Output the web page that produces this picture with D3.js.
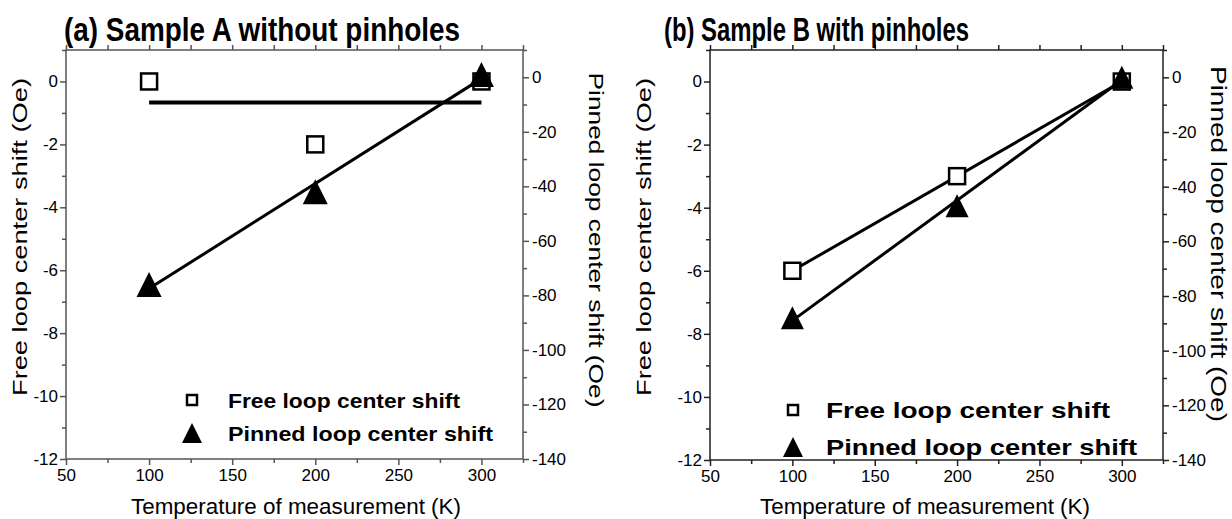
<!DOCTYPE html>
<html>
<head>
<meta charset="utf-8">
<script src="https://cdn.jsdelivr.net/npm/d3@7"></script>
<style>
  body { margin: 0; background: #fff; }
  svg text { font-family: 'Liberation Sans', Arial, sans-serif; fill: #000; }
</style>
</head>
<body>
<svg id="chart" width="1232" height="519"></svg>
<script>
// data
let temps = [100, 200, 300]
let freeA = [0, -2, 0]
let pinnedA = [-76, -42, 1]
let freeB = [-6, -3, 0]
let pinnedB = [-88, -47, 0]

let xTicks = [50, 100, 150, 200, 250, 300]
let xMinor = [75, 125, 175, 225, 275, 325]
let leftTicks = [0, -2, -4, -6, -8, -10, -12]
let leftMinor = [1, -1, -3, -5, -7, -9, -11]
let rightTicks = [0, -20, -40, -60, -80, -100, -120, -140]
let rightMinor = [10, -10, -30, -50, -70, -90, -110, -130]

let legendLabels = ['Free loop center shift', 'Pinned loop center shift']

function main() {
    let svg = d3.select('#chart')

    drawPanel(svg, {
        title: '(a) Sample A without pinholes', titleX: 64, titleW: 396,
        x0: 66, x1: 523, y0: 459, y1: 50,
        free: freeA, pinned: pinnedA,
        axisColor: '#555', freeLineW: 4,
        legX: 192, legY: 400, legTextX: 228, legGap: 33, legFont: 21, legW: [232, 265],
        xLabelX: 296, leftLabelX: 27, rightLabelX: 589, rightW: 335, rightMid: 240, rightFont: 20,
        triSize: 25
    })
    drawPanel(svg, {
        title: '(b) Sample B with pinholes', titleX: 664, titleW: 305,
        x0: 710, x1: 1163, y0: 460, y1: 50,
        free: freeB, pinned: pinnedB,
        axisColor: '#222', freeLineW: 3,
        legX: 793, legY: 410, legTextX: 826, legGap: 37, legFont: 22, legW: [284, 311],
        xLabelX: 925, leftLabelX: 651, rightLabelX: 1211, rightW: 356, rightMid: 244, rightFont: 22,
        triSize: 23
    })
}

function fit(xs, ys) {
    let mx = d3.mean(xs), my = d3.mean(ys)
    let num = d3.sum(xs, (x, i) => (x - mx) * (ys[i] - my))
    let den = d3.sum(xs, x => (x - mx) * (x - mx))
    let b = num / den
    return x => my + b * (x - mx)
}

function triangle(s) {
    let h = s / 2
    return 'M0,' + (-h) + 'L' + h + ',' + h + 'L' + (-h) + ',' + h + 'Z'
}

function drawPanel(svg, c) {
    let g = svg.append('g')
    let xScale = d3.scaleLinear().domain([50, 325]).range([c.x0, c.x1])
    let yLeft = d3.scaleLinear().domain([-12, 1]).range([c.y0, c.y1])
    let yRight = d3.scaleLinear().domain([-140, 10]).range([c.y0, c.y1])
    let plain = d => String(d)

    // frame
    g.append('rect')
        .attr('x', c.x0).attr('y', c.y1)
        .attr('width', c.x1 - c.x0).attr('height', c.y0 - c.y1)
        .attr('fill', 'none').attr('stroke', c.axisColor).attr('stroke-width', 1.5)

    let styleAxis = sel => {
        sel.select('.domain').remove()
        sel.selectAll('line').attr('stroke', c.axisColor).attr('stroke-width', 1.5)
        sel.selectAll('text').attr('font-size', 17).attr('fill', '#000')
            .attr('font-family', "'Liberation Sans', Arial, sans-serif")
    }

    // bottom axis
    g.append('g').attr('transform', 'translate(0,' + c.y0 + ')')
        .call(d3.axisBottom(xScale).tickValues(xTicks).tickSize(6).tickPadding(4).tickFormat(plain))
        .call(styleAxis)
    g.append('g').attr('transform', 'translate(0,' + c.y0 + ')')
        .call(d3.axisBottom(xScale).tickValues(xMinor).tickSize(4).tickFormat(''))
        .call(styleAxis)
    // top ticks
    g.append('g').attr('transform', 'translate(0,' + c.y1 + ')')
        .call(d3.axisTop(xScale).tickValues(xTicks.concat(xMinor)).tickSize(5).tickFormat(''))
        .call(styleAxis)

    // left axis
    g.append('g').attr('transform', 'translate(' + c.x0 + ',0)')
        .call(d3.axisLeft(yLeft).tickValues(leftTicks).tickSize(6).tickPadding(2).tickFormat(plain))
        .call(styleAxis)
    g.append('g').attr('transform', 'translate(' + c.x0 + ',0)')
        .call(d3.axisLeft(yLeft).tickValues(leftMinor).tickSize(4).tickFormat(''))
        .call(styleAxis)

    // right axis
    g.append('g').attr('transform', 'translate(' + c.x1 + ',0)')
        .call(d3.axisRight(yRight).tickValues(rightTicks).tickSize(6).tickPadding(3).tickFormat(plain))
        .call(styleAxis)
    g.append('g').attr('transform', 'translate(' + c.x1 + ',0)')
        .call(d3.axisRight(yRight).tickValues(rightMinor).tickSize(4).tickFormat(''))
        .call(styleAxis)

    // fit lines
    let freeFit = fit(temps, c.free)
    let pinFit = fit(temps, c.pinned)
    let xEnds = [d3.min(temps), d3.max(temps)]
    g.append('path')
        .attr('d', d3.line()(xEnds.map(t => [xScale(t), yLeft(freeFit(t))])))
        .attr('stroke', '#000').attr('stroke-width', c.freeLineW).attr('fill', 'none')
    g.append('path')
        .attr('d', d3.line()(xEnds.map(t => [xScale(t), yRight(pinFit(t))])))
        .attr('stroke', '#000').attr('stroke-width', 3).attr('fill', 'none')

    // free markers
    g.selectAll('rect.free')
        .data(temps.map((t, i) => [t, c.free[i]]))
        .enter()
        .append('rect')
        .attr('class', 'free')
        .attr('x', d => xScale(d[0]) - 8)
        .attr('y', d => yLeft(d[1]) - 8)
        .attr('width', 16).attr('height', 16)
        .attr('fill', '#fff').attr('stroke', '#000').attr('stroke-width', 2.5)

    // pinned markers
    g.selectAll('path.pin')
        .data(temps.map((t, i) => [t, c.pinned[i]]))
        .enter()
        .append('path')
        .attr('class', 'pin')
        .attr('d', triangle(c.triSize))
        .attr('transform', d => 'translate(' + xScale(d[0]) + ',' + yRight(d[1]) + ')')
        .attr('fill', '#000')

    // legend
    g.append('rect')
        .attr('x', c.legX - 5).attr('y', c.legY - 5)
        .attr('width', 10).attr('height', 10)
        .attr('fill', '#fff').attr('stroke', '#000').attr('stroke-width', 2.5)
    g.append('path')
        .attr('d', triangle(20))
        .attr('transform', 'translate(' + c.legX + ',' + (c.legY + c.legGap) + ')')
        .attr('fill', '#000')
    legendLabels.forEach((lab, i) => {
        g.append('text')
            .attr('x', c.legTextX).attr('y', c.legY + i * c.legGap + 8)
            .attr('font-size', c.legFont).attr('font-weight', 'bold')
            .attr('textLength', c.legW[i]).attr('lengthAdjust', 'spacingAndGlyphs')
            .text(lab)
    })

    // title
    g.append('text')
        .attr('x', c.titleX).attr('y', 41)
        .attr('font-size', 33).attr('font-weight', 'bold')
        .attr('textLength', c.titleW).attr('lengthAdjust', 'spacingAndGlyphs')
        .text(c.title)

    // axis labels
    g.append('text')
        .attr('x', c.xLabelX).attr('y', 514)
        .attr('text-anchor', 'middle')
        .attr('font-size', 22)
        .attr('textLength', 330).attr('lengthAdjust', 'spacingAndGlyphs')
        .text('Temperature of measurement (K)')
    g.append('text')
        .attr('transform', 'translate(' + c.leftLabelX + ',237) rotate(-90)')
        .attr('text-anchor', 'middle')
        .attr('font-size', 21)
        .attr('textLength', 318).attr('lengthAdjust', 'spacingAndGlyphs')
        .text('Free loop center shift (Oe)')
    g.append('text')
        .attr('transform', 'translate(' + c.rightLabelX + ',' + c.rightMid + ') rotate(90)')
        .attr('text-anchor', 'middle')
        .attr('font-size', c.rightFont)
        .attr('textLength', c.rightW).attr('lengthAdjust', 'spacingAndGlyphs')
        .text('Pinned loop center shift (Oe)')
}

main()
</script>
</body>
</html>
